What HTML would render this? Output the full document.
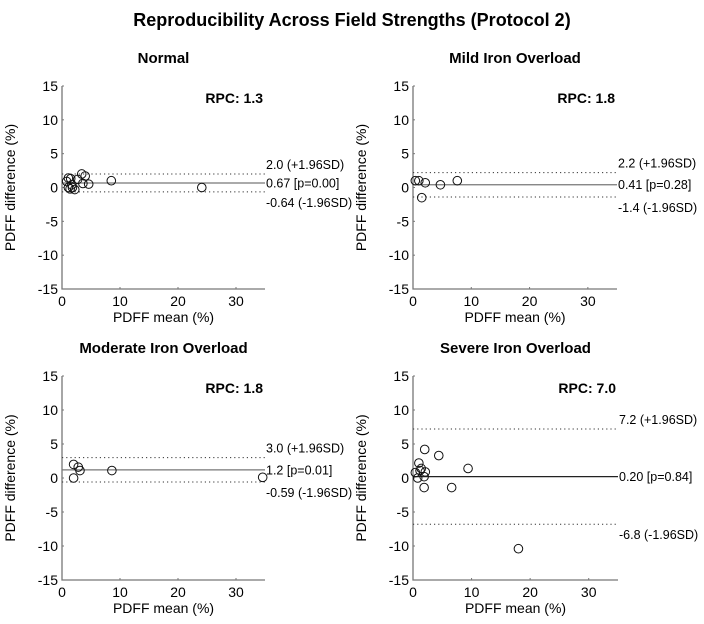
<!DOCTYPE html>
<html><head><meta charset="utf-8"><style>
html,body{margin:0;padding:0;background:#fff;}
svg{display:block;font-family:"Liberation Sans",Arial,sans-serif;}
</style></head><body>
<svg id="fig" width="704" height="624" viewBox="0 0 704 624">
<text x="352" y="26" text-anchor="middle" font-size="18" font-weight="bold">Reproducibility Across Field Strengths (Protocol 2)</text>
</svg>
<script>
const xTicks = [0, 10, 20, 30];
const yTicks = [15, 10, 5, 0, -5, -10, -15];
const normalX = [3.4, 4.0, 2.7, 1.1, 1.5, 0.8, 1.7, 3.6, 4.6, 1.1, 1.4, 1.8, 2.2, 8.5, 24.1];
const normalY = [2.0, 1.7, 1.2, 1.4, 1.3, 0.9, 0.4, 0.6, 0.5, 0.0, -0.2, 0.0, -0.3, 1.0, 0.0];
const mildX = [0.4, 1.0, 2.1, 4.7, 7.6, 1.5];
const mildY = [1.0, 1.0, 0.7, 0.4, 1.0, -1.5];
const modX = [2.0, 2.8, 3.1, 2.0, 8.6, 34.6];
const modY = [2.0, 1.6, 1.1, 0.0, 1.1, 0.1];
const sevX = [2.0, 4.4, 1.0, 1.4, 2.1, 0.4, 0.8, 1.9, 1.9, 6.6, 9.4, 18.0, 1.2];
const sevY = [4.2, 3.3, 2.2, 1.4, 0.9, 0.8, 0.0, 0.2, -1.4, -1.4, 1.4, -10.4, 1.1];
const normalStats = [2.0, 0.67, -0.64];
const mildStats = [2.2, 0.41, -1.4];
const modStats = [3.0, 1.2, -0.59];
const sevStats = [7.2, 0.20, -6.8];
const normalLabels = ["2.0 (+1.96SD)", "0.67 [p=0.00]", "-0.64 (-1.96SD)"];
const mildLabels = ["2.2 (+1.96SD)", "0.41 [p=0.28]", "-1.4 (-1.96SD)"];
const modLabels = ["3.0 (+1.96SD)", "1.2 [p=0.01]", "-0.59 (-1.96SD)"];
const sevLabels = ["7.2 (+1.96SD)", "0.20 [p=0.84]", "-6.8 (-1.96SD)"];
const titles = ["Normal", "Mild Iron Overload", "Moderate Iron Overload", "Severe Iron Overload"];
const rpcs = ["RPC: 1.3", "RPC: 1.8", "RPC: 1.8", "RPC: 7.0"];

const NS = "http://www.w3.org/2000/svg";
const svg = document.getElementById("fig");
function mk(tag, attrs, parent, txt) {
  const e = document.createElementNS(NS, tag);
  for (const k in attrs) e.setAttribute(k, attrs[k]);
  if (txt !== undefined) e.textContent = txt;
  (parent || svg).appendChild(e);
  return e;
}
const layouts = [
  {L: 62, T: 86, W: 203, H: 203, slug: "normal"},
  {L: 413, T: 86, W: 204, H: 203, slug: "mild"},
  {L: 62, T: 376, W: 203, H: 204, slug: "moderate"},
  {L: 413, T: 376, W: 205, H: 204, slug: "severe"}
];
const datasets = [[normalX, normalY, normalStats, normalLabels], [mildX, mildY, mildStats, mildLabels], [modX, modY, modStats, modLabels], [sevX, sevY, sevStats, sevLabels]];

layouts.forEach((lo, i) => {
  const g = mk("g", {});
  
  
  const xs = v => lo.L + v / 35 * lo.W;
  const ys = v => lo.T + (15 - v) / 30 * lo.H;
  const [X, Y, S, LB] = datasets[i];
  const t = mk("text", {x: lo.L + lo.W / 2, y: lo.T - 23, "text-anchor": "middle", "font-size": 15, "font-weight": "bold"}, g, titles[i]);
  
  
  const ax = mk("path", {d: `M${lo.L},${lo.T} V${lo.T + lo.H} H${lo.L + lo.W}`, fill: "none", stroke: "#777", "stroke-width": 1.3}, g);
  
  
  xTicks.forEach(v => {
    mk("line", {x1: xs(v), x2: xs(v), y1: lo.T + lo.H, y2: lo.T + lo.H - 2, stroke: "#777"}, g);
    const tl = mk("text", {x: xs(v), y: lo.T + lo.H + 17, "text-anchor": "middle", "font-size": 14}, g, v);
    
    
  });
  yTicks.forEach(v => {
    mk("line", {x1: lo.L, x2: lo.L + 2, y1: ys(v), y2: ys(v), stroke: "#777"}, g);
    const tl = mk("text", {x: lo.L - 4, y: ys(v) + 5, "text-anchor": "end", "font-size": 14}, g, v);
    
    
  });
  const xl = mk("text", {x: lo.L + lo.W / 2, y: lo.T + lo.H + 33, "text-anchor": "middle", "font-size": 14}, g, "PDFF mean (%)");
  
  
  const yx = lo.L - 47, yy = lo.T + lo.H / 2;
  const yl = mk("text", {x: yx, y: yy, "text-anchor": "middle", "font-size": 14, transform: `rotate(-90 ${yx} ${yy})`}, g, "PDFF difference (%)");
  
  
  const r = mk("text", {x: lo.L + lo.W - 2, y: lo.T + 17, "text-anchor": "end", "font-size": 14, "font-weight": "bold"}, g, rpcs[i]);
  
  
  S.forEach((v, k) => {
    const ln = mk("line", {x1: lo.L, x2: lo.L + lo.W, y1: ys(v), y2: ys(v), stroke: k === 1 ? (i === 3 ? "#222" : "#777") : "#333", "stroke-width": k === 1 ? 1.3 : 1, "stroke-dasharray": k === 1 ? "none" : "1.2 3"}, g);
    
    
    const dy = k === 0 ? -5 : (k === 1 ? 4.5 : 15);
    const lt = mk("text", {x: lo.L + lo.W + 1, y: ys(v) + dy, "font-size": 12.5}, g, LB[k]);
    
    
  });
  X.forEach((xv, j) => {
    const c = mk("circle", {cx: xs(xv), cy: ys(Y[j]), r: 4.3, fill: "none", stroke: "#111", "stroke-width": 1}, g);
    
    
  });
});
</script>
</body></html>
